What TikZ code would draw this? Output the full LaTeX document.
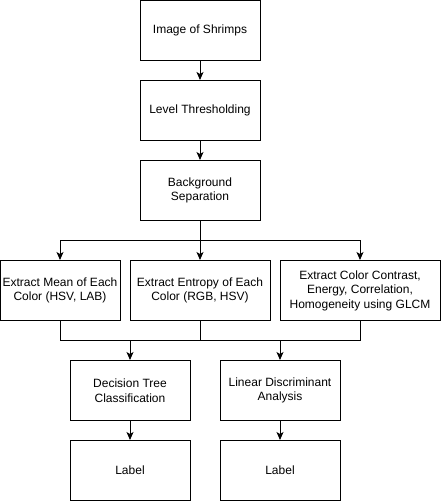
\documentclass[tikz,border=0pt]{standalone}
\usepackage{fontspec}
\setmainfont{Liberation Sans}
\usetikzlibrary{arrows.meta}

\begin{document}
\begin{tikzpicture}[x=1pt, y=1pt, node distance=80pt, line width=1pt,
    box/.style={draw, minimum width=120pt, minimum height=60pt, inner sep=2pt, align=center, font=\fontsize{12pt}{14.5pt}\selectfont},
    >={Stealth[length=8pt, width=7pt, inset=2pt]}]
        \useasboundingbox (0,0) rectangle (441,-501);
        \node [box] (1) at (200,-30.5) {Image of Shrimps};
        \node [box, below of=1] (2) {Level Thresholding};
        \node [box, below of=2] (3) {Background\\Separation};
        \node [box, below of=3, yshift=-20pt, minimum width=140pt] (5) {Extract Entropy of Each\\Color (RGB, HSV)};
        \node [box, left of=5, xshift=-60pt] (4) {Extract Mean of Each\\Color (HSV, LAB)};
        \node [box, right of=5, xshift=80pt, minimum width=160pt] (6) {Extract Color Contrast,\\Energy, Correlation,\\Homogeneity using GLCM};
        \node [box, below of=5, yshift=-20pt, xshift=-70pt] (7) {Decision Tree\\Classification};
        \node [box, below of=5, yshift=-20pt, xshift=80pt] (8) {Linear Discriminant\\Analysis};
        \node [box, below of=7] (9) {Label};
        \node [box, below of=8] (10) {Label};
        \coordinate [node distance=50pt, below of=3] (s);
        \coordinate [node distance=50pt, below of=5] (m);
        \draw[->] (1) -- (2);
        \draw[->] (2) -- (3);
        \draw (3) -- (s);
        \draw[->] (s) -| (4);
        \draw[->] (s) -- (5);
        \draw[->] (s) -| (6);
        \draw (4) |- (m) -| (6);
        \draw (5) -- (m);
        \draw[->] (7 |- m) -- (7);
        \draw[->] (8 |- m) -- (8);
        \draw[->] (7) -- (9);
        \draw[->] (8) -- (10);
      \end{tikzpicture}
\end{document}
